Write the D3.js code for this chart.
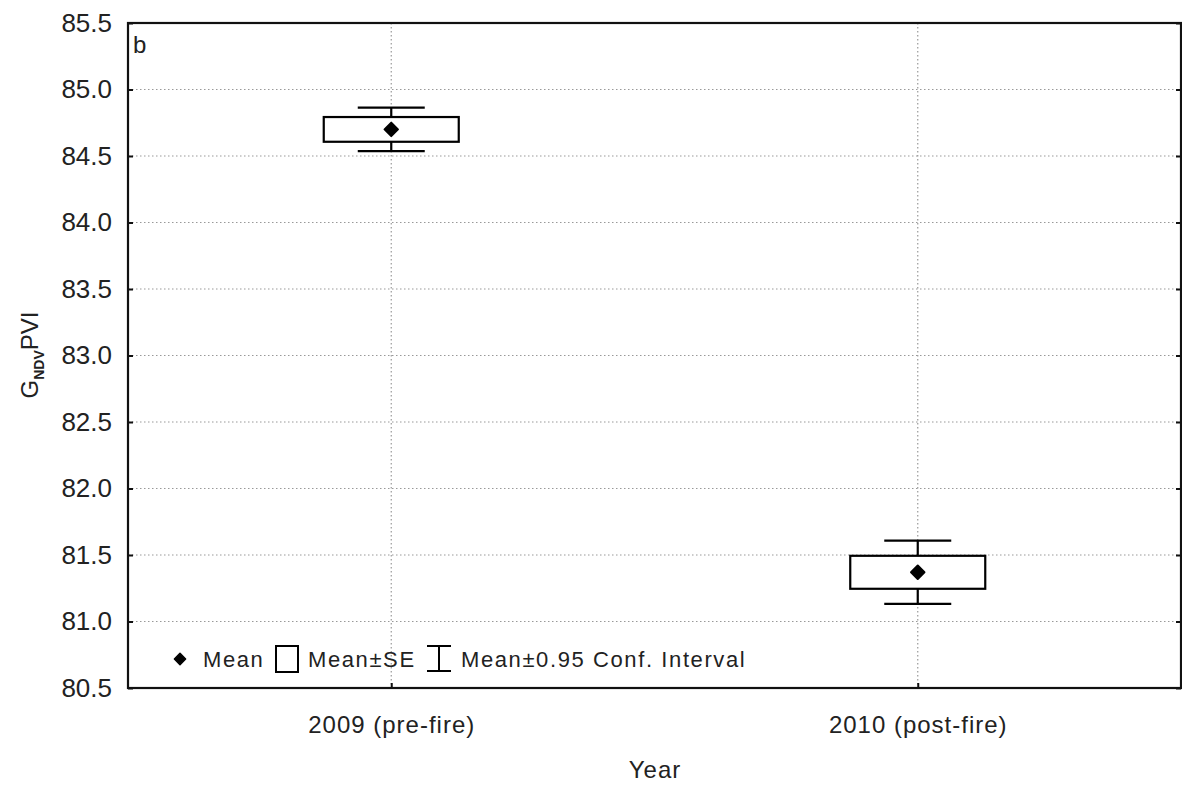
<!DOCTYPE html>
<html>
<head>
<meta charset="utf-8">
<script src="https://cdn.jsdelivr.net/npm/d3@7"></script>
<style>
  body { margin: 0; background: #fff; }
  svg text { font-family: "Liberation Sans", Arial, sans-serif; fill: #222; }
</style>
</head>
<body>
<div id="chart"></div>
<script>
// data
const years = ["2009 (pre-fire)", "2010 (post-fire)"];
const means = [84.70, 81.37];
const se = [0.093, 0.124];     // half height of the box
const ci = [0.164, 0.238];     // half height of the whiskers
const yTicks = [80.5, 81.0, 81.5, 82.0, 82.5, 83.0, 83.5, 84.0, 84.5, 85.0, 85.5];

const width = 1182, height = 785;
const margin = { top: 23, right: 1, bottom: 97, left: 128 };
const innerW = width - margin.left - margin.right,
  innerH = height - margin.top - margin.bottom;

const rows = years.map((y, i) => ({ year: y, mean: means[i], se: se[i], ci: ci[i] }));

const svg = d3.select("#chart").append("svg")
  .attr("width", width)
  .attr("height", height);

const g = svg.append("g").attr("transform", `translate(${margin.left},${margin.top})`);

const x = d3.scalePoint().domain(years).range([0, innerW]).padding(0.5);
const y = d3.scaleLinear().domain([80.5, 85.5]).range([innerH, 0]);

// dotted grid
g.selectAll("line.hgrid")
  .data(yTicks.slice(1, -1))
  .join("line")
  .attr("class", "hgrid")
  .attr("x1", 0).attr("x2", innerW)
  .attr("y1", d => y(d)).attr("y2", d => y(d))
  .attr("stroke", "#999").attr("stroke-width", 1.2)
  .attr("stroke-dasharray", "1.5,2.5");

g.selectAll("line.vgrid")
  .data(years)
  .join("line")
  .attr("class", "vgrid")
  .attr("x1", d => x(d)).attr("x2", d => x(d))
  .attr("y1", 0).attr("y2", innerH)
  .attr("stroke", "#999").attr("stroke-width", 1.2)
  .attr("stroke-dasharray", "1.5,2.5");

// axes with inward ticks
const yAxis = g.append("g")
  .call(d3.axisLeft(y).tickValues(yTicks).tickFormat(d3.format(".1f")).tickSize(-5).tickPadding(16));
yAxis.select(".domain").remove();
yAxis.selectAll("line").attr("stroke", "#111").attr("stroke-width", 2);
yAxis.selectAll("text").attr("font-size", 26).attr("fill", "#2a2a2a");

const yAxisR = g.append("g")
  .attr("transform", `translate(${innerW},0)`)
  .call(d3.axisRight(y).tickValues(yTicks).tickSize(-5).tickFormat(""));
yAxisR.select(".domain").remove();
yAxisR.selectAll("line").attr("stroke", "#111").attr("stroke-width", 2);

const xAxis = g.append("g")
  .attr("transform", `translate(0,${innerH})`)
  .call(d3.axisBottom(x).tickSize(-5).tickPadding(28));
xAxis.select(".domain").remove();
xAxis.selectAll("line").attr("stroke", "#111").attr("stroke-width", 2);
xAxis.selectAll("text").attr("font-size", 24).attr("letter-spacing", "1px").attr("fill", "#1a1a1a");

// frame
g.append("rect")
  .attr("width", innerW).attr("height", innerH)
  .attr("fill", "none").attr("stroke", "#111").attr("stroke-width", 2.2);

// whiskers + boxes + means
const boxW = 135, capW = 67;
const grp = g.selectAll("g.cat").data(rows).join("g").attr("class", "cat");

grp.append("line")
  .attr("x1", d => x(d.year)).attr("x2", d => x(d.year))
  .attr("y1", d => y(d.mean + d.ci)).attr("y2", d => y(d.mean - d.ci))
  .attr("stroke", "#000").attr("stroke-width", 2.2);

grp.selectAll("line.cap")
  .data(d => [d.mean + d.ci, d.mean - d.ci].map(v => ({ year: d.year, v })))
  .join("line")
  .attr("class", "cap")
  .attr("x1", d => x(d.year) - capW / 2).attr("x2", d => x(d.year) + capW / 2)
  .attr("y1", d => y(d.v)).attr("y2", d => y(d.v))
  .attr("stroke", "#000").attr("stroke-width", 2.2);

grp.append("rect")
  .attr("x", d => x(d.year) - boxW / 2)
  .attr("y", d => y(d.mean + d.se))
  .attr("width", boxW)
  .attr("height", d => y(d.mean - d.se) - y(d.mean + d.se))
  .attr("fill", "#fff").attr("stroke", "#000").attr("stroke-width", 2.2);

grp.append("path")
  .attr("d", d3.symbol(d3.symbolDiamond2, 115))
  .attr("transform", d => `translate(${x(d.year)},${y(d.mean)})`)
  .attr("fill", "#000").attr("stroke", "#000").attr("stroke-width", 2).attr("stroke-linejoin", "round");

// panel letter
g.append("text").attr("x", 5).attr("y", 30).attr("font-size", 24).text("b");

// legend
const leg = g.append("g").attr("transform", `translate(0,${innerH - 29})`);
leg.append("path")
  .attr("d", d3.symbol(d3.symbolDiamond2, 80))
  .attr("transform", "translate(52,0)")
  .attr("fill", "#000").attr("stroke", "#000").attr("stroke-width", 1.5).attr("stroke-linejoin", "round");
leg.append("text").attr("x", 75).attr("y", 8).attr("font-size", 22).attr("letter-spacing", "1.6px").attr("fill", "#1a1a1a").text("Mean");
leg.append("rect").attr("x", 148).attr("y", -13).attr("width", 22).attr("height", 26)
  .attr("fill", "#fff").attr("stroke", "#000").attr("stroke-width", 2);
leg.append("text").attr("x", 180).attr("y", 8).attr("font-size", 22).attr("letter-spacing", "1.6px").attr("fill", "#1a1a1a").text("Mean±SE");
leg.append("path")
  .attr("d", "M299,-13H323M311,-13V12M299,12H323")
  .attr("fill", "none").attr("stroke", "#000").attr("stroke-width", 2);
leg.append("text").attr("x", 333).attr("y", 8).attr("font-size", 22).attr("letter-spacing", "1.6px").attr("fill", "#1a1a1a").text("Mean±0.95 Conf. Interval");

// axis titles
svg.append("text")
  .attr("x", width / 2 + 64).attr("y", 778)
  .attr("text-anchor", "middle").attr("font-size", 24).attr("letter-spacing", "1px")
  .text("Year");

const yt = svg.append("text")
  .attr("transform", "translate(38,355) rotate(-90)")
  .attr("text-anchor", "middle").attr("font-size", 24);
yt.append("tspan").text("G");
yt.append("tspan").attr("font-size", 14).attr("dy", 6).attr("font-weight", "bold").text("NDV");
yt.append("tspan").attr("dy", -6).text("PVI");
</script>
</body>
</html>
